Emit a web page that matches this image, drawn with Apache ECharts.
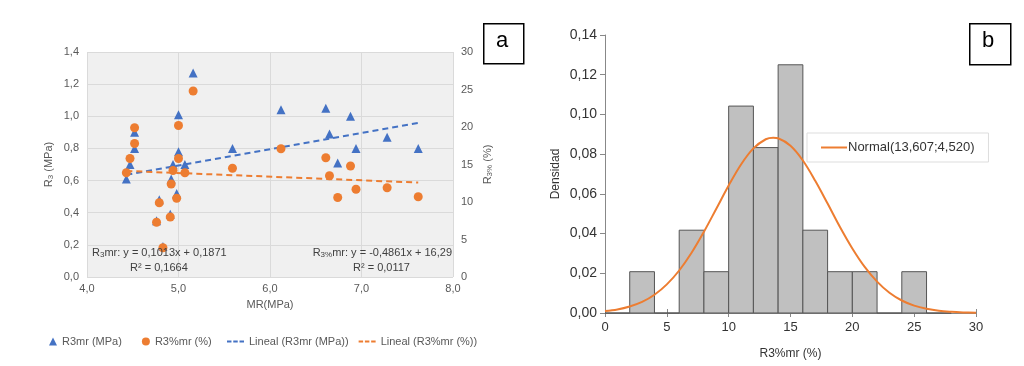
<!DOCTYPE html>
<html><head><meta charset="utf-8">
<script src="https://cdn.jsdelivr.net/npm/echarts@6/dist/echarts.min.js"></script>
<style>html,body{margin:0;padding:0;background:#fff}#c{width:1024px;height:366px}</style>
</head><body><div id="c"></div>
<script>
// ---- Data (panel a) ----
const mr = [4.43, 4.47, 4.52, 4.52, 4.76, 4.79, 4.83, 4.91, 4.92, 4.94, 4.98, 5.00, 5.00, 5.07, 5.16, 5.59, 6.12, 6.61, 6.65, 6.74, 6.88, 6.94, 7.28, 7.62];
const r3mr = [0.61, 0.70, 0.80, 0.90, 0.35, 0.48, 0.19, 0.39, 0.61, 0.70, 0.52, 0.78, 1.01, 0.70, 1.27, 0.80, 1.04, 1.05, 0.89, 0.71, 1.00, 0.80, 0.87, 0.80];
const r3pct = [13.9, 15.8, 17.8, 19.9, 7.3, 9.9, 3.9, 8.0, 12.4, 14.2, 10.5, 15.8, 20.2, 13.9, 24.8, 14.5, 17.1, 15.9, 13.5, 10.6, 14.8, 11.7, 11.9, 10.7];
const trendR3 = [[4.43, 0.636], [7.62, 0.959]];
const trendPct = [[4.43, 14.14], [7.62, 12.59]];
// ---- Data (panel b) ----
const binStart = [0, 2, 4, 6, 8, 10, 12, 14, 16, 18, 20, 22, 24, 26];
const binWidth = 2;
const density = [0, 0.0208, 0, 0.0417, 0.0208, 0.1042, 0.0833, 0.125, 0.0417, 0.0208, 0.0208, 0, 0.0208, 0];
const normX = [0,1,2,3,4,5,6,7,8,9,10,11,12,13,13.6,14,15,16,17,18,19,20,21,22,23,24,25,26,27,28,29,30];
const normY = [0.0010,0.0018,0.0033,0.0056,0.0092,0.0144,0.0214,0.0303,0.0409,0.0525,0.0642,0.0748,0.0829,0.0875,0.0883,0.0880,0.0842,0.0768,0.0666,0.0551,0.0433,0.0325,0.0232,0.0158,0.0102,0.0063,0.0037,0.0021,0.0011,0.0006,0.0003,0.0001];

const BLUE = '#4472c4', ORANGE = '#ed7d31';
const FONT = 'Liberation Sans';
const comma = d => v => v.toFixed(d).replace('.', ',');
const DASH_ICON = 'path://M0,0h5v2h-5z M7,0h5v2h-5z M14,0h5v2h-5z';

const chart = echarts.init(document.getElementById('c'), null, {renderer: 'canvas'});
const option = {
  animation: false,
  textStyle: {fontFamily: FONT},
  grid: [
    {left: 87, top: 52, width: 366, height: 225, show: true, backgroundColor: '#f0f0f0', borderWidth: 0},
    {left: 605, top: 35, width: 371, height: 278, show: false}
  ],
  xAxis: [
    {gridIndex: 0, type: 'value', min: 4, max: 8, interval: 1,
     name: 'MR(MPa)', nameLocation: 'middle', nameGap: 22,
     nameTextStyle: {color: '#595959', fontSize: 11, fontFamily: FONT},
     axisLine: {show: false}, axisTick: {show: false},
     axisLabel: {formatter: comma(1), color: '#595959', fontSize: 11, margin: 6},
     splitLine: {lineStyle: {color: '#dadada'}}},
    {gridIndex: 1, type: 'value', min: 0, max: 30, interval: 5,
     name: 'R3%mr (%)', nameLocation: 'middle', nameGap: 35,
     nameTextStyle: {color: '#333', fontSize: 12, fontFamily: FONT},
     axisLine: {show: true, lineStyle: {color: '#888'}},
     axisTick: {show: true, length: 4, inside: false, lineStyle: {color: '#888'}},
     axisLabel: {color: '#333', fontSize: 13, margin: 8},
     splitLine: {show: false}},
    {gridIndex: 1, type: 'value', min: 0, max: 30, interval: 5, position: 'bottom',
     axisLine: {show: false},
     axisTick: {show: true, length: 4, inside: true, lineStyle: {color: '#888'}},
     axisLabel: {show: false}, splitLine: {show: false}}
  ],
  yAxis: [
    {gridIndex: 0, type: 'value', min: 0, max: 1.4, interval: 0.2,
     name: '{a|R}{s|3}{a| (MPa)}', nameLocation: 'middle', nameGap: 32, nameRotate: 90,
     nameTextStyle: {rich: {a: {color: '#595959', fontSize: 11, fontFamily: FONT}, s: {color: '#595959', fontSize: 8, fontFamily: FONT, padding: [5, 0, 0, 0]}}},
     axisLine: {show: false}, axisTick: {show: false},
     axisLabel: {formatter: comma(1), color: '#595959', fontSize: 11, margin: 8},
     splitLine: {lineStyle: {color: '#dadada'}}},
    {gridIndex: 0, type: 'value', min: 0, max: 30, interval: 5, position: 'right',
     name: '{a|R}{s|3%}{a| (%)}', nameLocation: 'middle', nameGap: 28, nameRotate: 90,
     nameTextStyle: {rich: {a: {color: '#595959', fontSize: 11, fontFamily: FONT}, s: {color: '#595959', fontSize: 8, fontFamily: FONT, padding: [5, 0, 0, 0]}}},
     axisLine: {show: false}, axisTick: {show: false},
     axisLabel: {color: '#595959', fontSize: 11, margin: 8},
     splitLine: {show: false}},
    {gridIndex: 1, type: 'value', min: 0, max: 0.14, interval: 0.02,
     name: 'Densidad', nameLocation: 'middle', nameGap: 43, nameRotate: 90,
     nameTextStyle: {color: '#333', fontSize: 12, fontFamily: FONT},
     axisLine: {show: true, lineStyle: {color: '#888'}},
     axisTick: {show: true, length: 5, lineStyle: {color: '#888'}},
     axisLabel: {formatter: comma(2), color: '#333', fontSize: 14, margin: 8},
     splitLine: {show: false}}
  ],
  legend: [
    {left: 44, top: 331, itemWidth: 8, itemHeight: 8, itemGap: 20,
     textStyle: {color: '#595959', fontSize: 11, fontFamily: FONT},
     data: [{name: 'R3mr (MPa)', icon: 'triangle'}, {name: 'R3%mr (%)', icon: 'circle'}]},
    {left: 222, top: 331, itemWidth: 17, itemHeight: 2, itemGap: 10,
     textStyle: {color: '#595959', fontSize: 11, fontFamily: FONT, padding: [0, 0, 0, 0]},
     data: [{name: 'Lineal (R3mr (MPa))', icon: DASH_ICON}, {name: 'Lineal (R3%mr (%))', icon: DASH_ICON}]},
    {left: 807, top: 133, padding: [8, 14, 8, 14], itemWidth: 26, itemHeight: 2,
     backgroundColor: '#fff', borderColor: '#ddd', borderWidth: 1,
     textStyle: {color: '#333', fontSize: 13, fontFamily: FONT, padding: [0,0,0,-4]},
     data: [{name: 'Normal(13,607;4,520)', icon: 'rect'}]}
  ],
  series: [
    {name: 'Lineal (R3mr (MPa))', type: 'line', xAxisIndex: 0, yAxisIndex: 0, data: trendR3,
     symbol: 'none', lineStyle: {color: BLUE, width: 2, type: [6, 4]}, itemStyle: {color: BLUE}, z: 3},
    {name: 'Lineal (R3%mr (%))', type: 'line', xAxisIndex: 0, yAxisIndex: 1, data: trendPct,
     symbol: 'none', lineStyle: {color: ORANGE, width: 2, type: [6, 4]}, itemStyle: {color: ORANGE}, z: 3},
    {name: 'R3mr (MPa)', type: 'scatter', xAxisIndex: 0, yAxisIndex: 0,
     data: mr.map((x, i) => [x, r3mr[i]]), symbol: 'triangle', symbolSize: 9,
     itemStyle: {color: BLUE, opacity: 1}, z: 4},
    {name: 'R3%mr (%)', type: 'scatter', xAxisIndex: 0, yAxisIndex: 1,
     data: mr.map((x, i) => [x, r3pct[i]]), symbol: 'circle', symbolSize: 9,
     itemStyle: {color: ORANGE, opacity: 1}, z: 5},
    {name: 'hist', type: 'custom', xAxisIndex: 1, yAxisIndex: 2,
     data: binStart.map((s, i) => [s, s + binWidth, density[i]]),
     renderItem: function (params, api) {
       const p0 = api.coord([api.value(0), api.value(2)]);
       const p1 = api.coord([api.value(1), 0]);
       return {type: 'rect', shape: {x: p0[0], y: p0[1], width: p1[0] - p0[0], height: p1[1] - p0[1]},
               style: {fill: '#c0c0c0', stroke: '#555', lineWidth: 1}};
     }, z: 2},
    {name: 'Normal(13,607;4,520)', type: 'line', xAxisIndex: 1, yAxisIndex: 2,
     data: normX.map((x, i) => [x, normY[i]]), smooth: 0.35, symbol: 'none',
     lineStyle: {color: ORANGE, width: 2}, itemStyle: {color: ORANGE}, z: 4}
  ],
  graphic: [
    {type: 'text', left: 92, top: 247, z: 10, style: {text: '{a|R}{s|3}{a|mr: y = 0,1013x + 0,1871}', rich: {a: {fontSize: 11, fill: '#404040', fontFamily: FONT}, s: {fontSize: 8, fill: '#404040', fontFamily: FONT, padding: [5,0,0,0]}}}},
    {type: 'text', left: 130, top: 262, z: 10, style: {text: 'R² = 0,1664', fontSize: 11, fill: '#404040', fontFamily: FONT}},
    {type: 'text', right: 572, top: 247, z: 10, style: {text: '{a|R}{s|3%}{a|mr: y = -0,4861x + 16,29}', rich: {a: {fontSize: 11, fill: '#404040', fontFamily: FONT}, s: {fontSize: 8, fill: '#404040', fontFamily: FONT, padding: [5,0,0,0]}}}},
    {type: 'text', left: 353, top: 262, z: 10, style: {text: 'R² = 0,0117', fontSize: 11, fill: '#404040', fontFamily: FONT}},
    {type: 'rect', left: 483, top: 23, z: 10, shape: {width: 40, height: 40}, style: {fill: '#fff', stroke: '#000', lineWidth: 1.5}},
    {type: 'text', left: 496, top: 30, z: 11, style: {text: 'a', fontSize: 22, fill: '#000', fontFamily: FONT}},
    {type: 'rect', left: 969, top: 23, z: 10, shape: {width: 41, height: 41}, style: {fill: '#fff', stroke: '#000', lineWidth: 1.5}},
    {type: 'text', left: 982, top: 30, z: 11, style: {text: 'b', fontSize: 22, fill: '#000', fontFamily: FONT}}
  ]
};
chart.setOption(option);
</script></body></html>
